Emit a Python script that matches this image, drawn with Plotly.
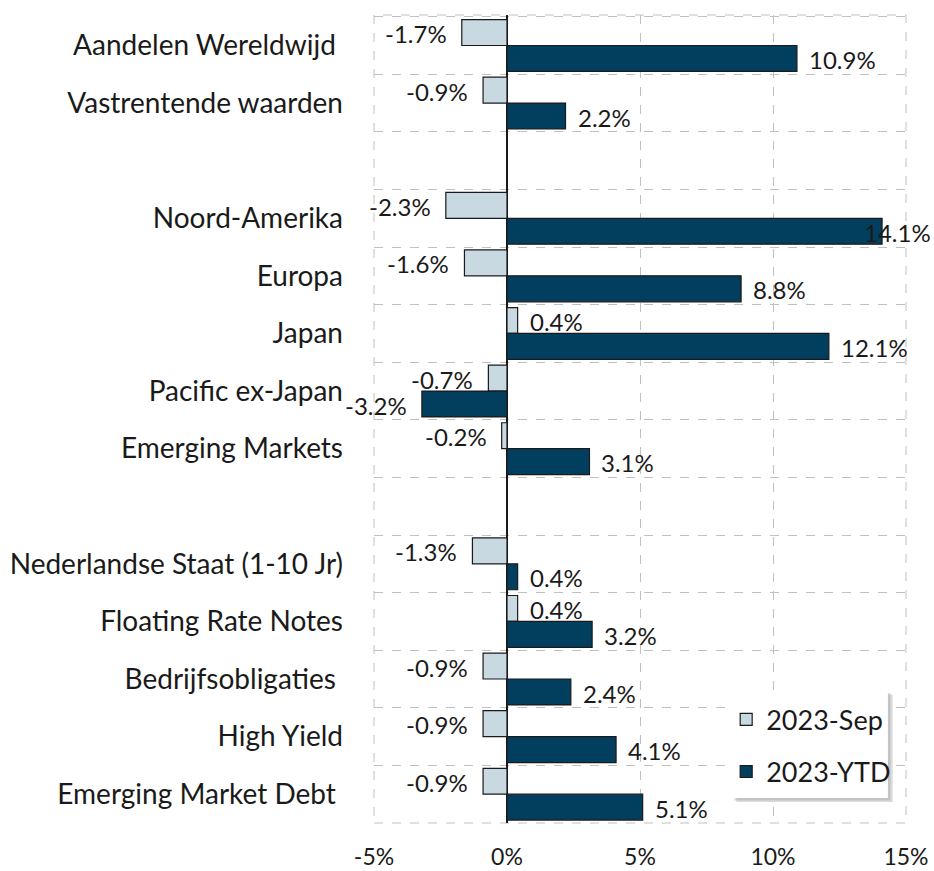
import plotly.graph_objects as go

categories = ["Aandelen Wereldwijd ", "Vastrentende waarden", " ", "Noord-Amerika", "Europa",
              "Japan", "Pacific ex-Japan", "Emerging Markets", "  ",
              "Nederlandse Staat (1-10 Jr)", "Floating Rate Notes", "Bedrijfsobligaties ",
              "High Yield", "Emerging Market Debt "]
sep_values = [-1.7, -0.9, None, -2.3, -1.6, 0.4, -0.7, -0.2, None, -1.3, 0.4, -0.9, -0.9, -0.9]
ytd_values = [10.9, 2.2, None, 14.1, 8.8, 12.1, -3.2, 3.1, None, 0.4, 3.2, 2.4, 4.1, 5.1]
series_names = ["2023-Sep", "2023-YTD"]
x_ticks = [-5, 0, 5, 10, 15]
x_tick_labels = ["-5%", "0%", "5%", "10%", "15%"]

FONT = "Lato"
TXT = "#1a1a1a"
colors = ["#c9d9e2", "#023f5e"]

fig = go.Figure()
for i, (name, vals) in enumerate(zip(series_names, [sep_values, ytd_values])):
    fig.add_trace(go.Bar(
        y=categories, x=vals, name=name, orientation="h",
        marker=dict(color=colors[i], line=dict(color=TXT, width=1.2)),
        legendgroup=name,
    ))
    # value labels
    yshift = 12 if i == 0 else -14
    for cat, v in zip(categories, vals):
        if v is None:
            continue
        if v >= 0:
            xanchor, xshift = "left", (10 if v < 13.5 else -20)
        else:
            xanchor, xshift = "right", -13
        fig.add_annotation(x=v, y=cat, text=f"{v:.1f}%", showarrow=False,
                           xanchor=xanchor, yanchor="middle", xshift=xshift, yshift=yshift,
                           font=dict(family=FONT, size=24, color=TXT))

fig.update_layout(
    width=934, height=871,
    margin=dict(l=374, r=28, t=15, b=48, autoexpand=False),
    paper_bgcolor="white", plot_bgcolor="white",
    barmode="group", bargap=0.1, bargroupgap=0.0,
    font=dict(family=FONT, size=22, color=TXT),
    showlegend=True,
    legend=dict(x=0.662, y=0.158, xanchor="left", yanchor="top",
                bgcolor="rgba(0,0,0,0)", borderwidth=0,
                font=dict(family=FONT, size=27, color=TXT),
                tracegroupgap=14, traceorder="grouped"),
)
fig.update_xaxes(
    range=[-5, 15], tickvals=x_ticks, ticktext=x_tick_labels,
    showgrid=True, gridcolor="#c0c0c0", griddash="dash", gridwidth=1,
    zeroline=True, zerolinecolor=TXT, zerolinewidth=2,
    ticks="outside", ticklen=13, tickcolor="rgba(0,0,0,0)",
    tickfont=dict(family=FONT, size=23),
    showline=False, automargin=False,
)
fig.update_yaxes(
    type="category", categoryorder="array", categoryarray=categories,
    autorange="reversed", tickson="boundaries",
    showgrid=True, gridcolor="#c0c0c0", griddash="dash", gridwidth=1,
    ticks="", ticklabelstandoff=30,
    tickfont=dict(family=FONT, size=28),
    showline=False, automargin=False,
)
fig.add_shape(type="rect", xref="x domain", yref="y domain", x0=0, x1=1, y0=0, y1=1,
              line=dict(color="#c0c0c0", width=1, dash="dash"), layer="below")
# legend box with soft shadow
fig.add_shape(type="rect", xref="paper", yref="paper", x0=0.681, x1=0.975, y0=0.026, y1=0.159,
              line=dict(width=0), fillcolor="rgba(140,140,140,0.30)", layer="above")
fig.add_shape(type="rect", xref="paper", yref="paper", x0=0.677, x1=0.971, y0=0.028, y1=0.161,
              line=dict(width=0), fillcolor="rgba(140,140,140,0.30)", layer="above")
fig.add_shape(type="rect", xref="paper", yref="paper", x0=0.673, x1=0.966, y0=0.0309, y1=0.1646,
              line=dict(width=0), fillcolor="white", layer="above")

fig.write_html("out.html", config={"displayModeBar": False},
               post_script="document.body.style.margin='0';document.body.style.overflow='hidden';")
